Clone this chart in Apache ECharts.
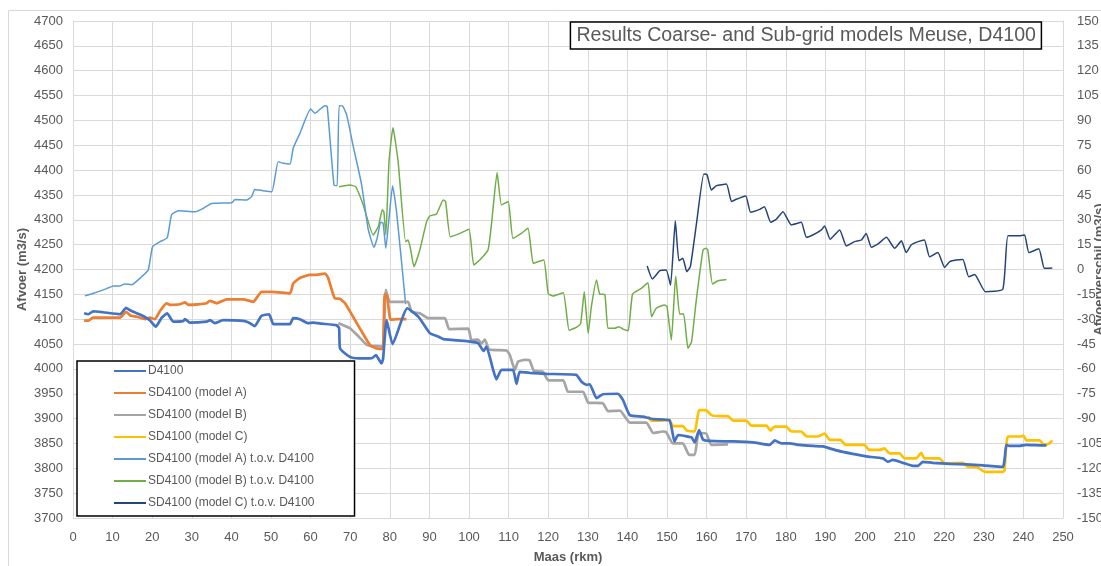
<!DOCTYPE html>
<html>
<head>
<meta charset="utf-8">
<script src="https://cdn.jsdelivr.net/npm/echarts@6/dist/echarts.min.js"></script>
<style>
html,body{margin:0;padding:0;background:#fff;}
#chart{width:1101px;height:566px;}
</style>
</head>
<body>
<div id="chart"></div>
<script>
// ---- Data (km, value) ----
const seriesNames = [
  'D4100',
  'SD4100 (model A)',
  'SD4100 (model B)',
  'SD4100 (model C)',
  'SD4100 (model A) t.o.v. D4100',
  'SD4100 (model B) t.o.v. D4100',
  'SD4100 (model C) t.o.v. D4100'
];

const d4100 = [[2.8,4112],[3.9,4110],[5.1,4116],[7.6,4114],[11.9,4110],[13.4,4123],[14.4,4118],[16.1,4112],[17.3,4108],[19.4,4098],[20.9,4085],[22.4,4103],[23.8,4112],[25.3,4095],[27.8,4096],[28.3,4100],[29.5,4093],[33.7,4095],[34.6,4098],[35.8,4092],[37.9,4098],[43.4,4096],[44.7,4092],[45.9,4086],[47.6,4107],[49.5,4110],[50.6,4090],[52.2,4090],[54.8,4090],[55.6,4102],[57.3,4100],[59.4,4092],[60.7,4093],[62.8,4091],[66.5,4088],[67.2,4082],[67.4,4042],[68.7,4031],[70.3,4023],[73.3,4021],[75.6,4022],[76.5,4028],[77.3,4018],[77.9,4011],[78.3,4020],[79.2,4098],[80.7,4050],[84.4,4122],[87.2,4105],[90.1,4072],[92.2,4065],[93.5,4060],[100.2,4055],[102.3,4052],[103.7,4036],[104.4,4045],[106.1,3998],[106.9,3979],[108.2,3998],[111.1,3998],[112.0,3970],[112.8,3994],[115.3,3992],[119.6,3990],[127.1,3988],[128.4,3974],[129.7,3968],[130.5,3969],[132.2,3941],[133.8,3949],[137.6,3950],[138.9,3937],[140.6,3907],[143.9,3904],[146.5,3899],[150.6,3897],[151.9,3854],[152.8,3867],[154.5,3865],[156.2,3862],[157.0,3852],[158.1,3877],[159.1,3858],[160.8,3855],[166.7,3854],[171.7,3852],[175.9,3847],[177.2,3856],[178.9,3850],[180.9,3850],[183.4,3847],[186.8,3845],[189.4,3844],[192.8,3836],[196.9,3829],[200.3,3824],[204.5,3820],[205.8,3813],[207.0,3817],[209.6,3811],[212.1,3805],[213.4,3805],[214.6,3813],[217.1,3811],[221.4,3809],[225.6,3808],[229.8,3806],[234.8,3803],[235.7,3847],[236.5,3845],[239.0,3845],[240.7,3847],[244.9,3846],[245.8,3846]];

const sdModelA = [[2.8,4097],[3.9,4097],[5.0,4103],[11.9,4103],[13.4,4115],[14.6,4107],[16.1,4105],[18.2,4100],[19.4,4103],[20.7,4100],[22.0,4117],[23.6,4132],[24.5,4129],[27.0,4130],[28.3,4134],[29.1,4129],[31.6,4130],[33.7,4132],[34.6,4137],[36.3,4132],[38.8,4140],[43.0,4140],[45.5,4135],[47.6,4155],[50.2,4155],[54.8,4152],[55.6,4172],[57.3,4183],[59.8,4189],[61.5,4189],[63.6,4192],[64.4,4184],[66.1,4142],[67.4,4141],[68.7,4132],[72.4,4082],[75.0,4048],[76.7,4041],[78.2,4040],[78.7,4150],[79.3,4148],[80.2,4099],[81.7,4100],[84.2,4100]];

const sdModelB = [[67.0,4092],[69.9,4082],[72.4,4063],[74.1,4049],[75.4,4046],[76.8,4046],[77.9,4045],[78.3,4045],[79.0,4159],[80.0,4135],[84.6,4135],[85.5,4115],[87.6,4112],[89.7,4102],[93.9,4102],[95.0,4080],[99.8,4081],[100.6,4058],[102.3,4059],[103.2,4051],[104.0,4059],[105.1,4039],[109.5,4037],[110.3,4028],[111.6,3998],[112.4,4015],[114.1,4018],[115.3,4017],[116.4,3996],[118.7,3994],[120.0,3977],[123.8,3977],[125.0,3954],[128.8,3954],[130.1,3932],[133.8,3931],[135.1,3915],[138.1,3916],[140.6,3892],[144.8,3892],[146.5,3871],[149.0,3874],[149.8,3873],[151.5,3850],[154.0,3850],[155.6,3827],[157.0,3827],[158.0,3871],[159.9,3870],[161.2,3847],[165.4,3848]];

const sdModelC = [[145.2,3904],[146.1,3896],[147.7,3896],[150.6,3897],[151.5,3885],[154.0,3885],[155.0,3876],[157.0,3874],[158.1,3917],[159.8,3917],[161.2,3907],[163.3,3905],[165.4,3905],[166.7,3896],[170.0,3896],[171.3,3886],[175.1,3886],[176.1,3876],[177.2,3884],[180.1,3884],[181.4,3874],[183.9,3874],[185.3,3864],[188.1,3864],[189.8,3870],[191.1,3857],[193.8,3857],[195.1,3847],[199.9,3847],[201.0,3837],[203.7,3837],[204.9,3840],[206.2,3830],[208.7,3830],[210.0,3820],[212.9,3820],[214.2,3831],[215.0,3820],[218.8,3820],[220.1,3810],[224.7,3811],[226.0,3803],[228.1,3803],[230.2,3793],[234.8,3793],[235.2,3795],[236.1,3864],[239.5,3864],[240.0,3866],[240.8,3856],[244.1,3856],[245.3,3847],[246.5,3850],[247.3,3856]];

const diffA = [[3.0,-15.9],[5,-14.5],[8,-12],[10.2,-9.9],[11.9,-9.9],[13.1,-8.7],[14.8,-9.2],[17.3,-4.4],[19.0,-0.3],[20.1,13.8],[22.0,16.8],[23.8,19.2],[24.9,33],[26.6,35.4],[30.8,34.8],[32.9,36.9],[35,39.9],[40.1,40.3],[40.9,42.2],[43.8,42],[45.1,44],[45.9,48.3],[48,47.6],[50.2,47],[51.8,65.1],[53.1,64.1],[54.8,63.7],[55.6,73.2],[57.3,82.2],[60.0,96.9],[61.1,94.3],[63.6,98.9],[64.2,98.3],[65.9,51],[66.7,50.6],[67.2,98.9],[68.1,98.7],[69.1,93.3],[70.7,75.1],[72.9,51],[74.5,24.9],[76.0,13.4],[76.8,18.8],[77.7,28.5],[78.3,28],[79.0,12.8],[79.8,30.9],[80.7,50.6],[81.7,34.9],[84.0,-21]];

const diffB = [[67.2,49.9],[69.9,51],[71.4,49.9],[73.3,39],[75.8,20.9],[77.1,25.9],[78.1,36],[78.5,34.9],[79.0,20.9],[79.8,65.1],[80.8,85.6],[82.1,65.1],[84.0,16.8],[84.6,17.8],[85.2,12.8],[86.1,1.7],[87.6,12],[89.3,28.9],[90.1,32.3],[91.8,33.5],[93.5,42],[94.1,41],[95.3,19.8],[97.7,21.8],[100.0,24.3],[101.2,2.7],[102.7,5.7],[104.8,11.8],[105.7,27.9],[107.1,58.5],[108.2,39],[109.9,41],[111.1,18.8],[113.2,21.8],[114.9,24.9],[116.2,3.7],[117.4,4.7],[118.9,5.7],[120.0,-14.4],[121.2,-16],[123.8,-14],[125.3,-36.7],[127.1,-34.9],[128.2,-32.5],[129.1,-13.4],[130.1,-38.5],[130.9,-22.4],[132.2,-6.3],[133.0,-14.8],[134.3,-15.1],[135.1,-35.5],[136.8,-35.5],[137.8,-34.5],[138.9,-36],[140.2,-36.9],[141.3,-14.8],[143.5,-11.4],[145.2,-8],[146.1,-28.5],[147.3,-23.4],[149.4,-21.4],[150.0,-22.4],[151.1,-42.6],[152.2,-3.9],[153.2,-26.9],[154.2,-26.9],[155.3,-47.6],[156.2,-43.6],[157.4,-18.4],[159.1,11.8],[159.8,12.8],[160.3,11.8],[161.5,-8.7],[162.9,-6.8],[165.0,-6]];

const diffC = [[145.0,2.1],[146.3,-5.7],[148.2,-0.7],[149.8,-0.3],[150.9,-9.4],[152.1,29.4],[153.0,5.3],[154.0,6.8],[155.0,-1.3],[155.9,1.7],[157.4,26.9],[159.3,57.6],[160.1,57.3],[161.2,48],[162.5,50.6],[165.0,51.6],[166.3,41],[167.5,42.4],[169.9,44.4],[171.1,34.6],[173.4,36.3],[174.6,37.9],[176.2,28.5],[177.6,30.3],[179.3,34.9],[181.4,26.9],[183.9,28.5],[185.2,19.4],[186.8,20.8],[189.0,23.9],[189.8,26.3],[191.2,18.3],[193.6,23.9],[195.3,14.2],[197.4,16.8],[199.1,17.8],[200.3,21.8],[201.6,13.4],[203.3,15.4],[205.4,19.4],[207.5,12.8],[209.2,17.3],[210.4,10.2],[211.7,14.9],[213.4,16.8],[215.0,17.8],[216.3,7.7],[218.4,10.2],[220.1,1.3],[221.4,4.7],[223.0,5.7],[224.7,6],[226.2,-4.4],[227.7,-3],[230.4,-13.4],[234.8,-11.9],[236.1,20.3],[239.0,20.3],[240.3,20.9],[241.4,10.2],[243.9,12.5],[245.3,0.7],[247.3,0.9]];

const titleText = 'Results Coarse- and Sub-grid models Meuse, D4100';
const xAxisName = 'Maas (rkm)';
const yAxisName = 'Afvoer (m3/s)';
const y2AxisName = 'Afvoerverschil (m3/s)';

// ---- Styling ----
const colors = ['#4472C4','#ED7D31','#A5A5A5','#FFC000','#5B9BD5','#70AD47','#264478'];
const widths = [2.7,2.7,2.7,2.7,1.5,1.5,1.5];
const datasets = [d4100, sdModelA, sdModelB, sdModelC, diffA, diffB, diffC];
const yIdx = [0,0,0,0,1,1,1];
const FONT = '"Liberation Sans", Arial, sans-serif';
const TXT = '#595959';
const plain = v => String(v);

const chart = echarts.init(document.getElementById('chart'), null, {renderer:'canvas'});
chart.setOption({
  animation: false,
  backgroundColor: '#fff',
  textStyle: {fontFamily: FONT},
  graphic: [{
    type: 'rect', silent: true, z: -10,
    shape: {x: 8.5, y: 10.5, width: 1200, height: 700},
    style: {fill: 'none', stroke: '#d9d9d9', lineWidth: 1}
  }],
  title: {
    text: titleText,
    right: 59, top: 22,
    padding: [4, 6, 3, 6],
    borderColor: '#000', borderWidth: 1.5,
    backgroundColor: '#fff',
    textStyle: {fontFamily: FONT, fontSize: 19.6, fontWeight: 'normal', color: TXT}
  },
  legend: {
    orient: 'vertical',
    left: 77, top: 361,
    padding: [4, 40, 7, 36],
    itemGap: 10, itemWidth: 32, itemHeight: 12,
    borderColor: '#000', borderWidth: 1.5,
    backgroundColor: '#fff',
    data: seriesNames,
    itemStyle: {color: 'rgba(0,0,0,0)', borderColor: 'rgba(0,0,0,0)', borderWidth: 0},
    textStyle: {fontFamily: FONT, fontSize: 12, color: TXT, padding: [0,0,0,-3]},
    z: 10
  },
  grid: {left: 73, right: 38, top: 21, bottom: 48, containLabel: false, outerBoundsMode: 'none'},
  xAxis: {
    type: 'value', min: 0, max: 250, interval: 10,
    name: xAxisName, nameLocation: 'middle', nameGap: 33, nameMoveOverlap: false,
    nameTextStyle: {fontFamily: FONT, fontSize: 13, fontWeight: 'bold', color: TXT},
    axisLine: {lineStyle: {color: '#d9d9d9'}},
    axisTick: {show: false},
    axisLabel: {color: TXT, fontSize: 13, margin: 13, fontFamily: FONT, formatter: plain},
    splitLine: {show: true, lineStyle: {color: '#d9d9d9', width: 1}}
  },
  yAxis: [{
    type: 'value', min: 3700, max: 4700, interval: 50,
    name: yAxisName, nameLocation: 'middle', nameGap: 44, nameMoveOverlap: false,
    nameTextStyle: {fontFamily: FONT, fontSize: 13, fontWeight: 'bold', color: TXT},
    axisLine: {show: true, lineStyle: {color: '#d9d9d9'}},
    axisTick: {show: false},
    axisLabel: {color: TXT, fontSize: 13, margin: 10, fontFamily: FONT, formatter: plain},
    splitLine: {show: true, lineStyle: {color: '#d9d9d9', width: 1}}
  }, {
    type: 'value', min: -150, max: 150, interval: 15, position: 'right',
    name: y2AxisName, nameLocation: 'middle', nameGap: 30, nameRotate: 90, nameMoveOverlap: false,
    nameTextStyle: {fontFamily: FONT, fontSize: 13, fontWeight: 'bold', color: TXT},
    axisLine: {show: true, lineStyle: {color: '#d9d9d9'}},
    axisTick: {show: false},
    axisLabel: {color: TXT, fontSize: 13, margin: 14, fontFamily: FONT, formatter: plain},
    splitLine: {show: false}
  }],
  series: datasets.map((d, i) => ({
    name: seriesNames[i],
    type: 'line',
    yAxisIndex: yIdx[i],
    data: d,
    showSymbol: false,
    symbol: 'none',
    smooth: 0.15,
    color: colors[i],
    lineStyle: {color: colors[i], width: widths[i]},
    z: 2 + (6 - i) * 0.1
  }))
});
</script>
</body>
</html>
